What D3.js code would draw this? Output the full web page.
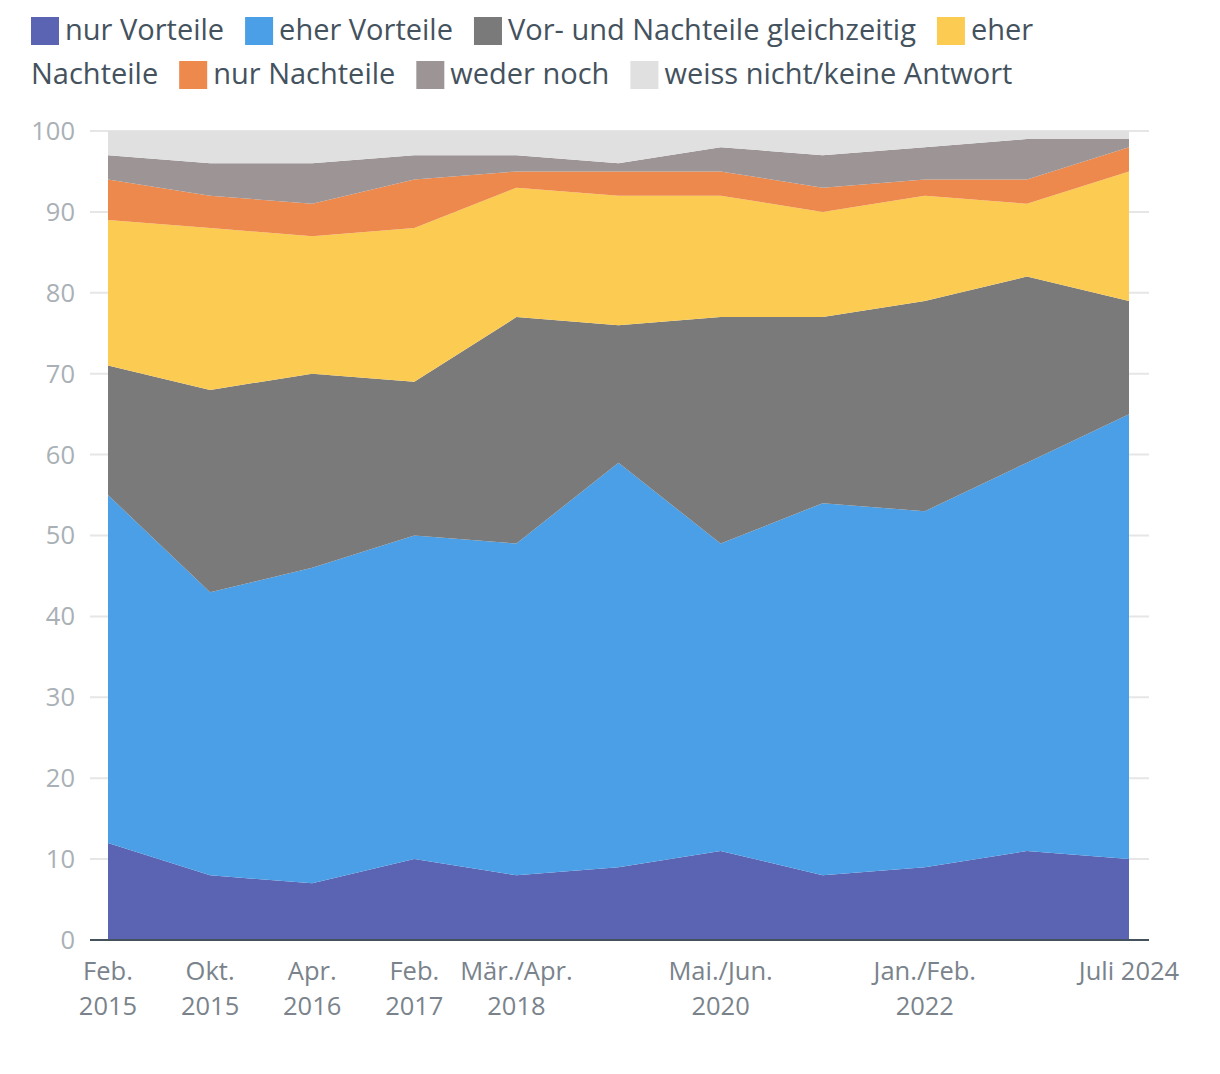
<!DOCTYPE html>
<html><head><meta charset="utf-8">
<script src="https://cdn.jsdelivr.net/npm/d3@7/dist/d3.min.js"></script>
<style>
html,body{margin:0;padding:0;background:#fff;}
svg{display:block;font-family:"Open Sans","Noto Sans",sans-serif;}
</style></head>
<body>
<svg id="chart" width="1220" height="1074"></svg>
<script>
const periods = ["Feb. 2015","Okt. 2015","Apr. 2016","Feb. 2017","Mär./Apr. 2018","2019","Mai./Jun. 2020","2021","Jan./Feb. 2022","2023","Juli 2024"];
const tickLabels = [["Feb.","2015"],["Okt.","2015"],["Apr.","2016"],["Feb.","2017"],["Mär./Apr.","2018"],[],["Mai./Jun.","2020"],[],["Jan./Feb.","2022"],[],["Juli 2024"]];
const seriesNames = ["nur Vorteile","eher Vorteile","Vor- und Nachteile gleichzeitig","eher Nachteile","nur Nachteile","weder noch","weiss nicht/keine Antwort"];
const colors = ["#5a64b2","#4a9fe6","#7a7a7a","#fccb52","#ee894e","#9c9495","#e0e0e0"];
const nurVorteile     = [12, 8, 7,10, 8, 9,11, 8, 9,11,10];
const eherVorteile    = [43,35,39,40,41,50,38,46,44,48,55];
const vorUndNachteile = [16,25,24,19,28,17,28,23,26,23,14];
const eherNachteile   = [18,20,17,19,16,16,15,13,13, 9,16];
const nurNachteile    = [ 5, 4, 4, 6, 2, 3, 3, 3, 2, 3, 3];
const wederNoch       = [ 3, 4, 5, 3, 2, 1, 3, 4, 4, 5, 1];
const weissNicht      = [ 3, 4, 4, 3, 3, 4, 2, 3, 2, 1, 1];
const yTicks = [0,10,20,30,40,50,60,70,80,90,100];

const seriesValues = [nurVorteile,eherVorteile,vorUndNachteile,eherNachteile,nurNachteile,wederNoch,weissNicht];
const table = periods.map((p,i)=>{const o={period:p}; seriesNames.forEach((n,j)=>o[n]=seriesValues[j][i]); return o;});

const svg = d3.select("#chart");
const x = d3.scalePoint().domain(periods).range([108,1129]);
const y = d3.scaleLinear().domain([0,100]).range([940,131]);

// grid
svg.append("g").selectAll("line").data(yTicks).join("line")
  .attr("x1",90).attr("x2",1149).attr("y1",d=>y(d)).attr("y2",d=>y(d))
  .attr("stroke","#e6e6e6").attr("stroke-width",2);

const stack = d3.stack().keys(seriesNames);
const stacked = stack(table);
const area = d3.area().x(d=>x(d.data.period)).y0(d=>y(d[0])).y1(d=>y(d[1]));
svg.append("g").selectAll("path").data(stacked).join("path")
  .attr("d",area).attr("fill",(d,i)=>colors[i]);

// y labels
svg.append("g").selectAll("text").data(yTicks).join("text")
  .attr("x",75).attr("y",d=>y(d)).attr("dy","0.35em").attr("text-anchor","end")
  .attr("fill","#a9b0b6").attr("font-size",25.5).text(d=>d);

// axis line
svg.append("line").attr("x1",90).attr("x2",1149).attr("y1",940).attr("y2",940)
  .attr("stroke","#44525e").attr("stroke-width",2);

// x labels
const xl = svg.append("g").selectAll("text").data(periods).join("text")
  .attr("x",d=>x(d)).attr("y",980).attr("text-anchor","middle")
  .attr("fill","#7a838b").attr("font-size",25.5);
xl.each(function(d,i){
  const t=d3.select(this);
  tickLabels[i].forEach((s,k)=>t.append("tspan").attr("x",x(d)).attr("dy",k===0?0:35).text(s));
});

// legend (flow layout with word wrap)
const lg = svg.append("g").attr("font-size",29).attr("fill","#44525e");
const maxX = 1060, lineH = 44, sw = 28;
let cx = 31, line = 0;
const base0 = 40;
function measure(s){const t=lg.append("text").text(s);const w=t.node().getComputedTextLength();t.remove();return w;}
seriesNames.forEach((name,i)=>{
  if(cx+sw+7+measure(name.split(" ")[0])>maxX){line++;cx=31;}
  lg.append("rect").attr("x",cx).attr("y",base0+line*lineH-23).attr("width",sw).attr("height",sw).attr("fill",colors[i]);
  cx += sw+6;
  const words = name.split(" ");
  let cur = "";
  let startX = cx;
  words.forEach((w,k)=>{
    const test = cur? cur+" "+w : w;
    if(startX+measure(test)>maxX && cur){
      lg.append("text").attr("x",startX).attr("y",base0+line*lineH).text(cur);
      line++; startX=31; cur=w;
    } else cur=test;
  });
  lg.append("text").attr("x",startX).attr("y",base0+line*lineH).text(cur);
  cx = startX+measure(cur)+21;
});
</script>
</body></html>
